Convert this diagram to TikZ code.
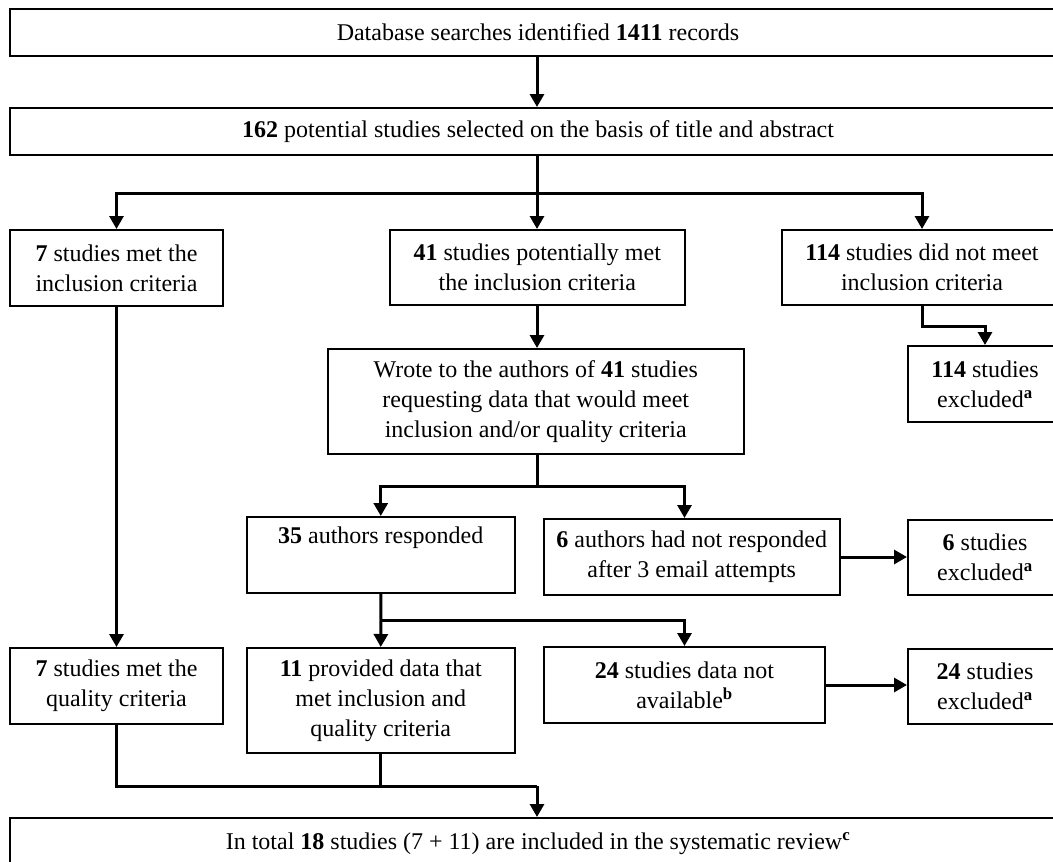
\documentclass[tikz,border=0pt]{standalone}
\usepackage{fontspec}
\setmainfont{Liberation Serif}
\usetikzlibrary{arrows.meta,calc}
\begin{document}
\begin{tikzpicture}[x=1pt,y=-1pt,
  box/.style={draw=black,line width=2pt,rectangle,inner sep=0pt,align=center,
    font=\fontsize{24}{30}\selectfont},
  arr/.style={line width=3pt,-{Triangle[length=13pt,width=14pt]}},
  ln/.style={line width=3pt}]
\useasboundingbox (0,0) rectangle (1053,862);
\clip (0,0) rectangle (1053,862);
\node[box,minimum width=1056pt,minimum height=47pt] (b1) at (538,32.5) {Database searches identified \textbf{1411} records};
\node[box,minimum width=1056pt,minimum height=47pt] (b2) at (538,131.5) {\textbf{162} potential studies selected on the basis of title and abstract};
\node[box,minimum width=213pt,minimum height=76pt] (b3) at (116.5,268) {\textbf{7} studies met the\\inclusion criteria};
\node[box,minimum width=295.5pt,minimum height=75pt] (b4) at (537.25,267.5) {\textbf{41} studies potentially met\\the inclusion criteria};
\node[box,minimum width=280pt,minimum height=75pt] (b5) at (922,267.5) {\textbf{114} studies did not meet\\inclusion criteria};
\node[box,minimum width=154pt,minimum height=76pt] (b6) at (985,384) {\textbf{114} studies\\excluded\textsuperscript{\textbf{a}}};
\node[box,minimum width=415.5pt,minimum height=105pt] (b7) at (535.75,401.5) {Wrote to the authors of \textbf{41} studies\\requesting data that would meet\\inclusion and/or quality criteria};
\node[box,minimum width=268.5pt,minimum height=76pt] (b8) at (380.75,555) {\textbf{35} authors responded\\\strut};
\node[box,minimum width=295.5pt,minimum height=76pt] (b9) at (691.75,557) {\textbf{6} authors had not responded\\after 3 email attempts};
\node[box,minimum width=154pt,minimum height=75pt] (b10) at (985,557.5) {\textbf{6} studies\\excluded\textsuperscript{\textbf{a}}};
\node[box,minimum width=213pt,minimum height=76pt] (b11) at (116.5,686) {\textbf{7} studies met the\\quality criteria};
\node[box,minimum width=268.5pt,minimum height=105pt] (b12) at (380.75,700.5) {\textbf{11} provided data that\\met inclusion and\\quality criteria};
\node[box,minimum width=281pt,minimum height=76pt] (b13) at (684.5,685) {\textbf{24} studies data not\\available\textsuperscript{\textbf{b}}};
\node[box,minimum width=154pt,minimum height=75pt] (b14) at (985,686.5) {\textbf{24} studies\\excluded\textsuperscript{\textbf{a}}};
\node[box,minimum width=1056pt,minimum height=52pt] (b15) at (538,844) {In total \textbf{18} studies (7 + 11) are included in the systematic review\textsuperscript{\textbf{c}}};
% connectors
\coordinate (j1) at (537,193);
\coordinate (j2) at (537,486);
\coordinate (j3) at (381,620);
\coordinate (j4) at (537,786);
\draw[arr] (b1.south -| j1) -- (b2.north -| j1);
\draw[ln] (b2.south -| j1) -- (j1);
\draw[arr] (j1) -| (b3.north);
\draw[arr] (j1) -- (b4.north -| j1);
\draw[arr] (j1) -| (b5.north);
\draw[arr] (b5.south) -- ++(0,20) -| (b6.north);
\draw[arr] (b4.south -| j1) -- (b7.north -| j1);
\draw[ln] (b7.south -| j2) -- (j2);
\draw[arr] (j2) -| (b8.north);
\draw[arr] (j2) -| (b13.north |- b9.north);
\draw[arr] (b9.east) -- (b9.east -| b10.west);
\draw[ln] (b8.south) -- (j3);
\draw[arr] (j3) -- (b12.north);
\draw[arr] (j3) -| (b13.north);
\draw[arr] (b13.east) -- (b13.east -| b14.west);
\draw[arr] (b3.south) -- (b11.north);
\draw[ln] (b11.south) |- (j4);
\draw[ln] (b12.south) -- (b12.south |- j4);
\draw[arr] (j4) -- (b15.north -| j4);
\end{tikzpicture}
\end{document}
